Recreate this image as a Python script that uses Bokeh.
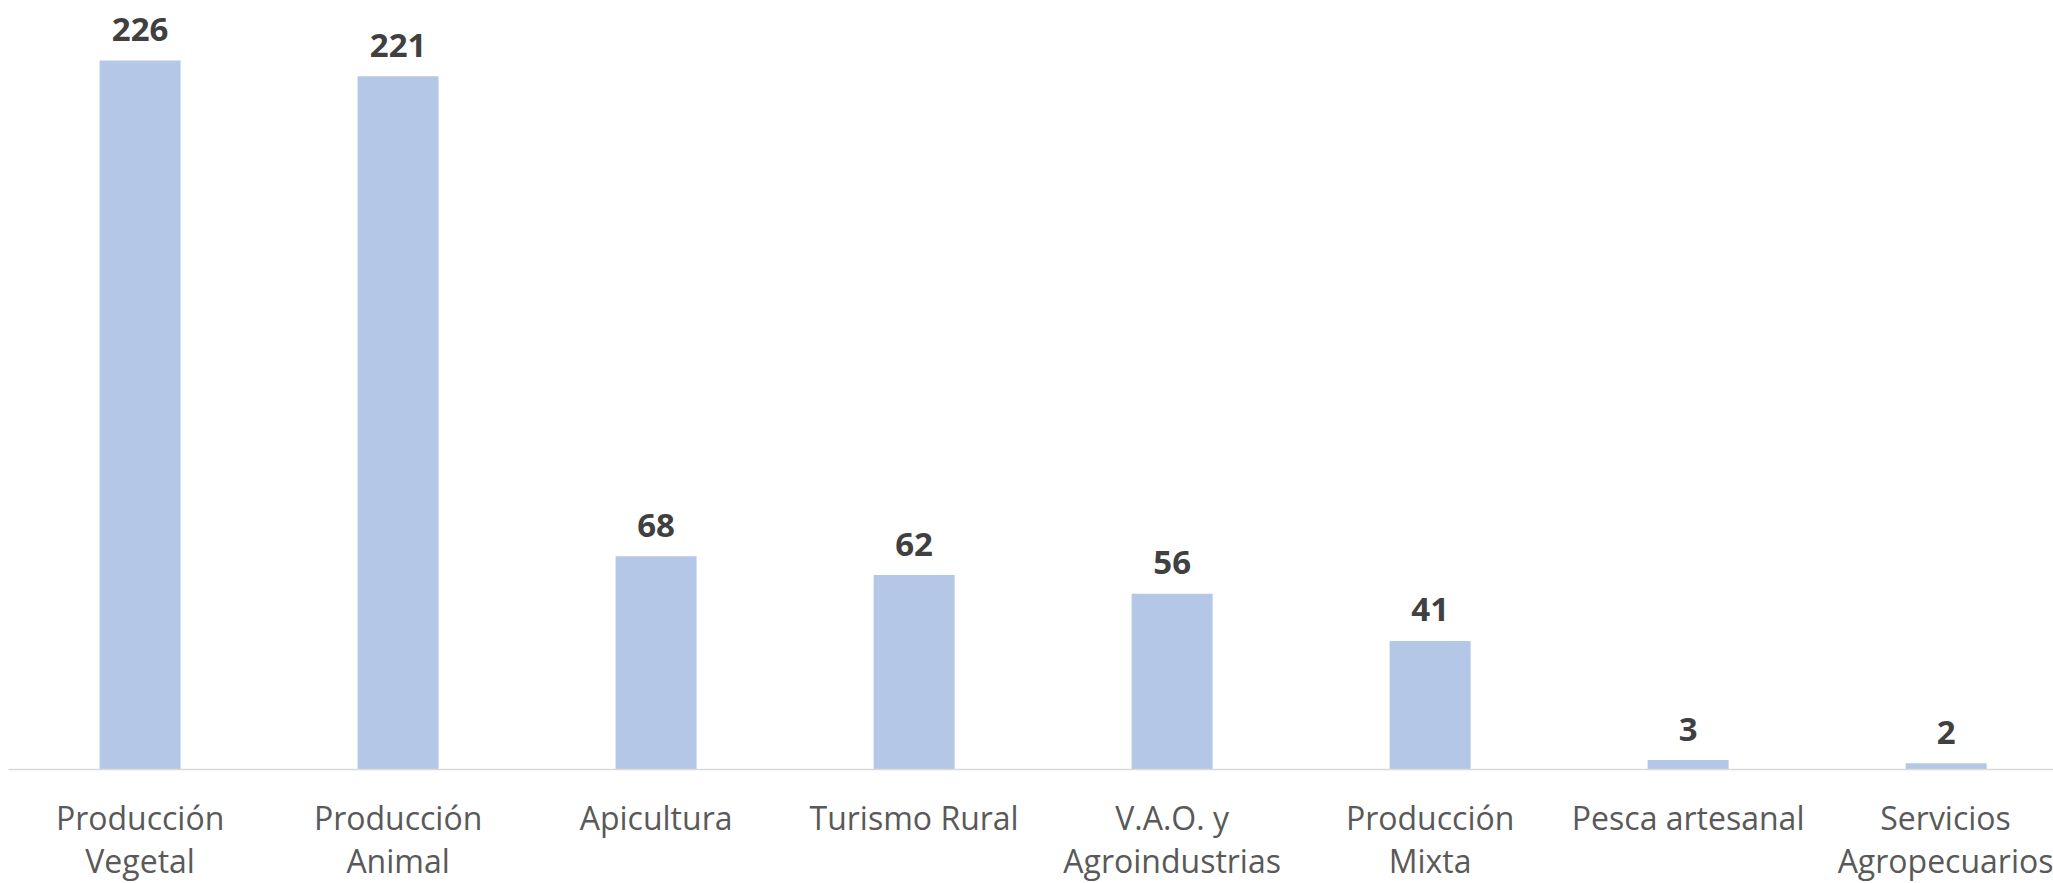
from bokeh.plotting import figure
from bokeh.models import Range1d, FixedTicker, ColumnDataSource
from bokeh.core.properties import value
from bokeh.embed import file_html
from bokeh.resources import INLINE

categories = ["Producción\nVegetal", "Producción\nAnimal", "Apicultura", "Turismo Rural",
              "V.A.O. y\nAgroindustrias", "Producción\nMixta", "Pesca artesanal",
              "Servicios\nAgropecuarios"]
counts = [226, 221, 68, 62, 56, 41, 3, 2]

xs = list(range(len(categories)))
src = ColumnDataSource(dict(x=xs, top=counts, lbl=[str(c) for c in counts]))

p = figure(frame_width=2045, frame_height=761, output_backend="svg", toolbar_location=None,
           x_range=Range1d(-0.51, 7.416), y_range=Range1d(0, 242.6),
           min_border_left=8, min_border_right=0, min_border_top=8, min_border_bottom=0)

p.vbar(x="x", top="top", width=0.314, bottom=0, source=src,
       fill_color="#B4C7E7", line_color=None)
p.text(x="x", y="top", text="lbl", source=src, text_align="center",
       text_baseline="alphabetic", y_offset=-31,
       text_font=value("Open Sans"), text_font_style="bold",
       text_font_size="33px", text_color="#404040")

p.xaxis.ticker = FixedTicker(ticks=xs)
p.xaxis.major_label_overrides = {i: c for i, c in enumerate(categories)}
p.xaxis.major_label_text_font = "Open Sans"
p.xaxis.major_label_text_font_size = "32px"
p.xaxis.major_label_text_line_height = 1.0
p.xaxis.major_label_text_color = "#595959"
p.xaxis.major_label_standoff = 20
p.xaxis.major_tick_line_color = None
p.xaxis.minor_tick_line_color = None
p.xaxis.axis_line_color = "#d9d9d9"
p.xaxis.axis_line_width = 1.5
p.yaxis.visible = False
p.xgrid.grid_line_color = None
p.ygrid.grid_line_color = None
p.outline_line_color = None
p.background_fill_color = "white"
p.border_fill_color = "white"

open("out.html", "w").write(file_html(p, INLINE))
